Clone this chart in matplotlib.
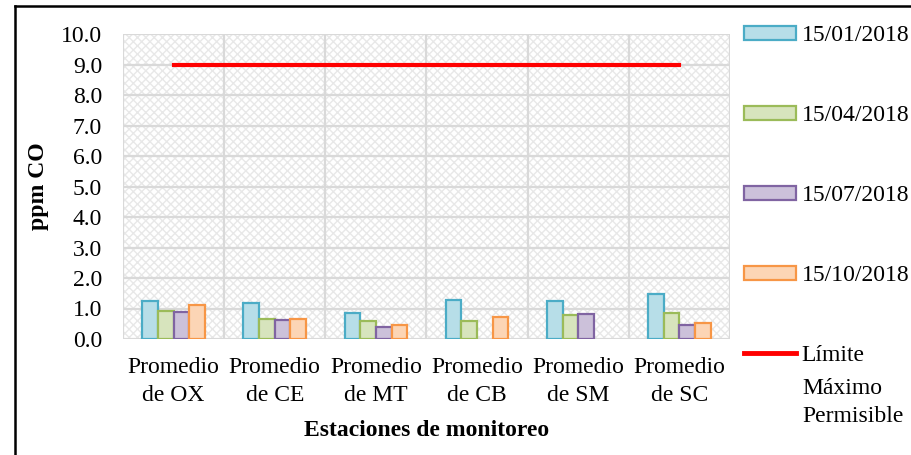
import numpy as np
import matplotlib
matplotlib.use("Agg")
import matplotlib.pyplot as plt
from matplotlib.patches import Rectangle, Patch
from matplotlib.lines import Line2D

plt.rcParams['font.family'] = ['Liberation Serif', 'DejaVu Serif']
plt.rcParams['hatch.linewidth'] = 1.0

categories = ["Promedio\nde OX", "Promedio\nde CE", "Promedio\nde MT",
              "Promedio\nde CB", "Promedio\nde SM", "Promedio\nde SC"]
series_labels = ["15/01/2018", "15/04/2018", "15/07/2018", "15/10/2018"]
s_jan = [1.25, 1.17, 0.86, 1.29, 1.23, 1.48]
s_apr = [0.93, 0.66, 0.58, 0.60, 0.78, 0.84]
s_jul = [0.88, 0.61, 0.40, np.nan, 0.82, 0.47]
s_oct = [1.10, 0.67, 0.47, 0.73, np.nan, 0.53]
limit_value = 9.0
limit_label = ["Límite", "Máximo", "Permisible"]
yticks = [0, 1, 2, 3, 4, 5, 6, 7, 8, 9, 10]

fills = ["#b7dee8", "#d7e4bd", "#ccc1da", "#fcd5b5"]
edges = ["#4bacc6", "#9bbb59", "#8064a2", "#f79646"]
FS = 17

W, H = 912, 455
fig = plt.figure(figsize=(W / 100, H / 100), dpi=100)
ax = fig.add_axes([123 / W, 1 - 339 / H, (730 - 123) / W, (339 - 34) / H])

# hatched background
ax.add_patch(Rectangle((0, 0), 1, 1, transform=ax.transAxes, facecolor="white",
                       edgecolor="#e8e8e8", hatch="xxxx", lw=0, zorder=0))

x = np.arange(len(categories))
w = 0.155
series = [s_jan, s_apr, s_jul, s_oct]
for i, vals in enumerate(series):
    ax.bar(x + (i - 1.5) * w, vals, width=w, facecolor=fills[i],
           edgecolor=edges[i], linewidth=1.6, zorder=3)

ax.plot([x[0], x[-1]], [limit_value, limit_value], color="#ff0000", lw=3, zorder=4)

ax.set_xlim(-0.5, len(categories) - 0.5)
ax.set_ylim(0, 10)
ax.set_yticks(yticks)
ax.set_yticklabels([f"{v:.1f}" for v in yticks])
ax.set_xticks(x)
ax.set_xticklabels(categories, linespacing=1.45)
ax.tick_params(axis="both", length=0, labelsize=FS)
ax.tick_params(axis="y", pad=15)
ax.tick_params(axis="x", pad=13)
for v in yticks:
    ax.axhline(v, color="#d9d9d9", lw=1.6, zorder=1)
for b in np.arange(-0.5, len(categories), 1.0):
    ax.axvline(b, color="#d9d9d9", lw=1.6, zorder=1)
for s in ax.spines.values():
    s.set_visible(False)

ax.set_ylabel("ppm CO", fontsize=FS, fontweight="bold", labelpad=9)
ax.set_xlabel("Estaciones de monitoreo", fontsize=FS, fontweight="bold", labelpad=10)

# legend
handles = [Patch(facecolor=fills[i], edgecolor=edges[i], linewidth=1.6) for i in range(4)]
handles.append(Line2D([0], [0], color="#ff0000", lw=3.5))
labels = series_labels + [limit_label[0]]
leg = fig.legend(handles, labels, loc="upper left", bbox_to_anchor=(744 / W, 1 - 25 / H),
                 frameon=False, fontsize=FS, labelspacing=2.5, handlelength=2.2,
                 handleheight=0.55, handletextpad=0.25, borderaxespad=0, borderpad=0)
for k, txt in enumerate(limit_label[1:]):
    fig.text(802 / W, 1 - (394 + 28 * k) / H, txt, fontsize=FS, va="baseline", ha="left")

# figure frame
fig.add_artist(Line2D([15.5 / W, 15.5 / W], [0, 1 - 5.5 / H], color="black", lw=1.8,
                      transform=fig.transFigure))
fig.add_artist(Line2D([15.5 / W, 1], [1 - 5.5 / H, 1 - 5.5 / H], color="black", lw=1.8,
                      transform=fig.transFigure))

fig.savefig("out.png", dpi=100)
